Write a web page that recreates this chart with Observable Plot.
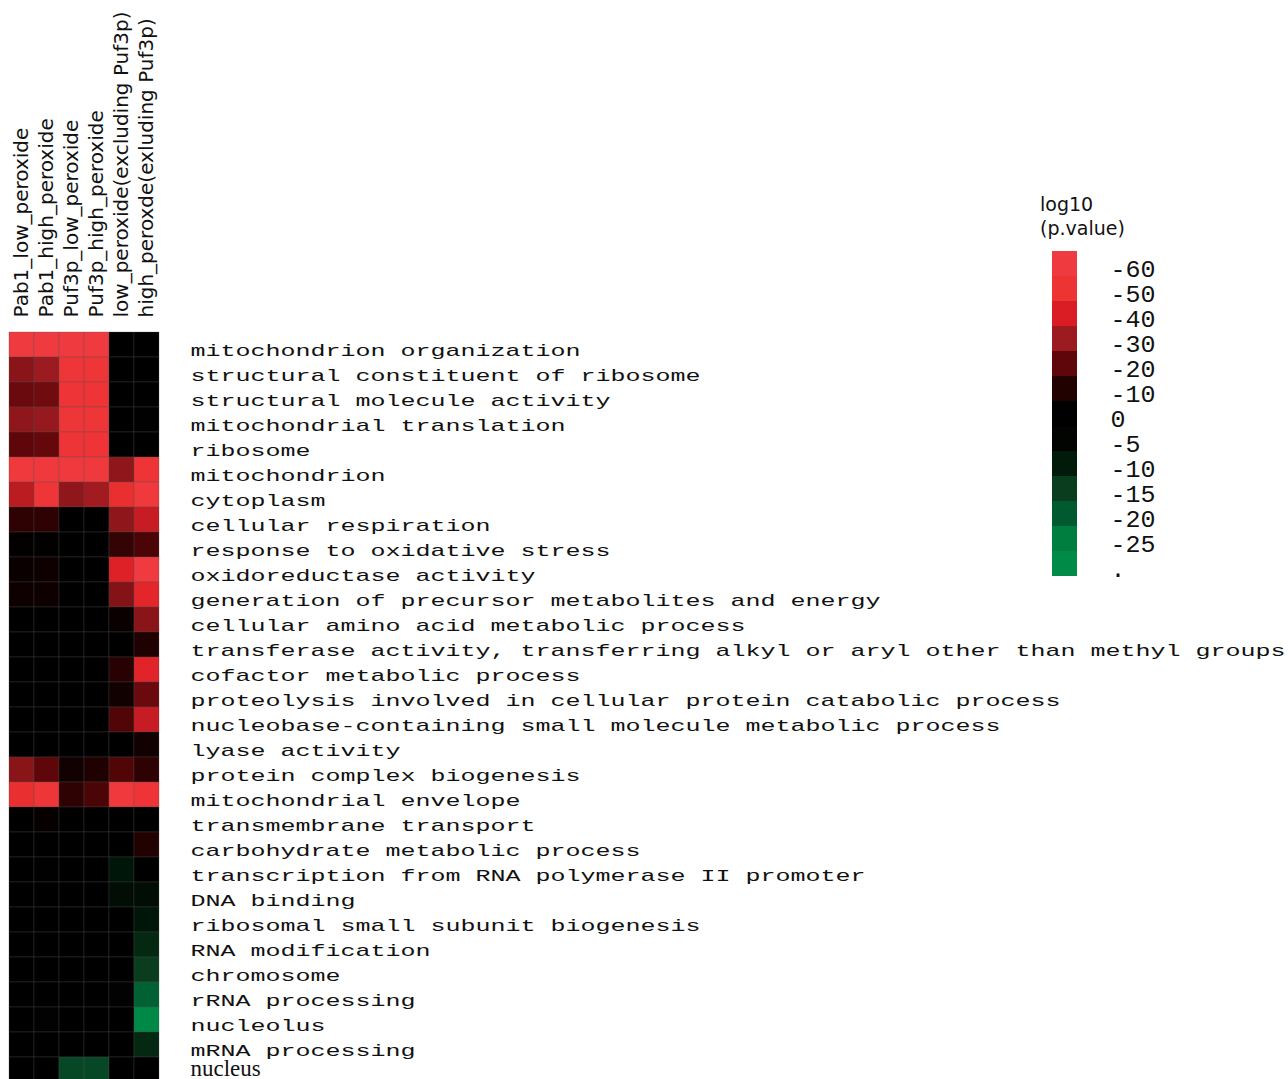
<!DOCTYPE html>
<html><head><meta charset="utf-8">
<script src="https://cdn.jsdelivr.net/npm/d3@7"></script>
<script src="https://cdn.jsdelivr.net/npm/@observablehq/plot@0.6"></script>
<style>
body{margin:0;background:#fff;}
#wrap{position:relative;width:1288px;height:1079px;overflow:hidden;background:#fff;}
#wrap > svg{position:absolute;left:0;top:0;}
#legend{position:absolute;left:1030px;top:180px;}
#ltitle{position:absolute;left:1040px;top:192px;font-family:"DejaVu Sans";font-size:19px;line-height:24px;color:#111;}
</style></head>
<body>
<div id="wrap"><div id="ltitle">log10<br>(p.value)</div><div id="legend"></div></div>
<script>
const columns = ["Pab1_low_peroxide","Pab1_high_peroxide","Puf3p_low_peroxide","Puf3p_high_peroxide","low_peroxide(excluding Puf3p)","high_peroxde(exluding Puf3p)"];
const terms = [
 "mitochondrion organization","structural constituent of ribosome","structural molecule activity",
 "mitochondrial translation","ribosome","mitochondrion","cytoplasm","cellular respiration",
 "response to oxidative stress","oxidoreductase activity","generation of precursor metabolites and energy",
 "cellular amino acid metabolic process","transferase activity, transferring alkyl or aryl other than methyl groups",
 "cofactor metabolic process","proteolysis involved in cellular protein catabolic process",
 "nucleobase-containing small molecule metabolic process","lyase activity","protein complex biogenesis",
 "mitochondrial envelope","transmembrane transport","carbohydrate metabolic process",
 "transcription from RNA polymerase II promoter","DNA binding","ribosomal small subunit biogenesis",
 "RNA modification","chromosome","rRNA processing","nucleolus","mRNA processing","nucleus"];
// negative = red (enriched), positive = green scale
const pab1Low  = [-60,-27,-22,-28,-20,-58,-35,-12,-1,-3,-4,0,0,0,0,0,0,-27,-48,0,0,0,0,0,0,0,0,0,0,0];
const pab1High = [-60,-30,-23,-29,-21,-58,-53,-12,-1,-4,-4,0,0,0,0,0,0,-20,-53,-2,0,1,0,0,0,0,0,2,0,0];
const puf3Low  = [-60,-53,-52,-53,-52,-58,-28,0,0,0,0,0,0,0,0,0,0,-5,-12,0,0,0,0,0,0,0,0,0,0,17];
const puf3High = [-60,-53,-52,-53,-52,-58,-31,0,0,0,0,0,0,0,0,0,0,-9,-17,0,0,0,0,0,0,0,0,0,0,17];
const lowExcl  = [0,0,0,0,0,-28,-48,-28,-13,-42,-26,-3,0,-11,-5,-18,0,-18,-58,0,0,9,7,0,0,0,3,0,0,0];
const highExcl = [0,0,0,1,0,-52,-58,-37,-17,-60,-44,-27,-9,-43,-22,-37,-5,-12,-52,0,-10,0,7,9,12,15,21,29,12,0];
const series = [pab1Low,pab1High,puf3Low,puf3High,lowExcl,highExcl];

const legendStops  = [-60,-50,-40,-30,-20,-10,0,5,10,15,20,25,30];
const legendLabels = ["-60","-50","-40","-30","-20","-10","0","-5","-10","-15","-20","-25","."];
const legendColors = ["#ef3a40","#ee3333","#da1d24","#9b1b20","#5e0609","#220101","#000000","#020402","#001b09","#0a3c1e","#005a30","#007e40","#008a48"];

const table = terms.flatMap((t,i)=>columns.map((c,j)=>({term:t,col:c,value:series[j][i]})));
const colorScale = {type:"linear", domain:legendStops, range:legendColors, interpolate:"rgb"};
const monoTerms = terms.filter(t=>t!=="nucleus");

const main = Plot.plot({
  width:1288, height:1079, marginTop:332, marginBottom:0, marginLeft:9, marginRight:1129,
  style:{background:"transparent"},
  x:{domain:columns, range:[9,159], padding:0, axis:null},
  y:{domain:terms, range:[332,1082], padding:0, axis:null},
  color:colorScale,
  marks:[
    Plot.cell(table,{x:"col",y:"term",fill:"value",stroke:"#555",strokeWidth:0.5,strokeOpacity:0.6}),
    Plot.text(columns,{x:d=>d, frameAnchor:"top", dy:-15, rotate:-90, textAnchor:"start", lineAnchor:"middle",
      fontFamily:"DejaVu Sans", fontSize:20, fill:"#111"}),
    Plot.text(monoTerms,{y:d=>d, frameAnchor:"right", dx:31, dy:6, textAnchor:"start",
      fontFamily:"Liberation Mono", fontSize:17, fill:"#111"}),
    Plot.text(["nucleus"],{y:d=>d, frameAnchor:"right", dx:31, dy:-1, textAnchor:"start",
      fontFamily:"Liberation Serif", fontSize:23, fill:"#111"})
  ]
});
document.getElementById("wrap").prepend(main);
main.querySelectorAll("text").forEach(t=>{
  const s = t.textContent;
  if (monoTerms.includes(s)) {
    t.setAttribute("textLength", s.length*15);
    t.setAttribute("lengthAdjust","spacingAndGlyphs");
  }
});

const legend = Plot.plot({
  width:258, height:420, marginTop:71, marginBottom:24, marginLeft:22, marginRight:211,
  style:{background:"transparent"},
  y:{domain:d3.range(legendStops.length), range:[71,396], padding:0, axis:null},
  color:colorScale,
  marks:[
    Plot.cell(legendStops,{y:(d,i)=>i, fill:d=>d}),
    Plot.text(legendLabels,{y:(d,i)=>i, frameAnchor:"right", dx:33, dy:5, textAnchor:"start",
      fontFamily:"Liberation Mono", fontSize:24, fill:"#111"})
  ]
});
document.getElementById("legend").appendChild(legend);
legend.querySelectorAll("text").forEach(t=>{
  const s = t.textContent;
  if (legendLabels.includes(s)) {
    t.setAttribute("textLength", s.length*15);
    t.setAttribute("lengthAdjust","spacingAndGlyphs");
  }
});
</script>
</body></html>
